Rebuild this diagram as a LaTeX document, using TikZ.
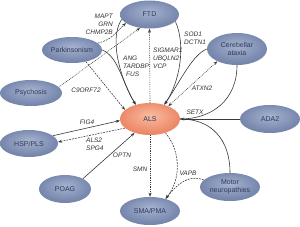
\documentclass[tikz,border=0pt]{standalone}
\usepackage{fontspec}
\setmainfont{Liberation Sans}
\usetikzlibrary{shapes.geometric,arrows.meta}
\definecolor{bA}{HTML}{A6B3D0}
\definecolor{bB}{HTML}{7B8BB0}
\definecolor{bC}{HTML}{53648B}
\definecolor{aA}{HTML}{F8BCA2}
\definecolor{aB}{HTML}{EE8E6D}
\definecolor{aC}{HTML}{D2603F}
\definecolor{nodetext}{HTML}{2F3A56}
\definecolor{labtext}{HTML}{333333}
\definecolor{linec}{HTML}{3A3A3A}
\pgfdeclareradialshading{blueshade}{\pgfpoint{0bp}{6bp}}{color(0bp)=(bA); color(22bp)=(bB); color(50bp)=(bC)}
\pgfdeclareradialshading{alsshade}{\pgfpoint{0bp}{6bp}}{color(0bp)=(aA); color(22bp)=(aB); color(50bp)=(aC)}
\newcommand\dnodefont{\fontsize{7}{8}\selectfont}
\newcommand\dgenefont{\fontsize{6.5}{8}\selectfont\itshape}
\tikzset{
  dis/.style={ellipse, inner sep=0pt, shade, shading=blueshade, text=nodetext, font=\dnodefont, align=center},
  alsnode/.style={ellipse, inner sep=0pt, shade, shading=alsshade, text=nodetext, font=\dnodefont, align=center},
  gene/.style={font=\dgenefont, text=labtext, inner sep=0pt},
  con/.style={draw=linec, line width=0.6pt},
  arr/.style={-{Stealth[length=4pt,width=3pt]}},
  dbl/.style={{Stealth[length=4pt,width=3pt]}-{Stealth[length=4pt,width=3pt]}},
  dsh/.style={dash pattern=on 1.8pt off 1.1pt},
  dtt/.style={dash pattern=on 0.8pt off 1pt},
}
\begin{document}
\begin{tikzpicture}[x=1pt,y=-1pt]
\useasboundingbox (0,0) rectangle (300,227);
\fill[white] (0,0) rectangle (300,227);
% nodes
\node[dis, minimum width=59pt, minimum height=28pt] (FTD) at (149.5,14.5) {FTD};
\node[dis, minimum width=60pt, minimum height=26pt] (Park) at (72,50) {Parkinsonism};
\node[dis, minimum width=62pt, minimum height=26pt] (Psy) at (31,93) {Psychosis};
\node[dis, minimum width=60pt, minimum height=32pt] (Cereb) at (237,49) {Cerebellar\\ataxia};
\node[alsnode, minimum width=60pt, minimum height=32pt] (ALS) at (150,119) {ALS};
\node[dis, minimum width=60pt, minimum height=28pt] (ADA) at (270,119) {ADA2};
\node[dis, minimum width=58pt, minimum height=27pt] (HSP) at (29,143.5) {HSP/PLS};
\node[dis, minimum width=52pt, minimum height=28pt] (POAG) at (65,189) {POAG};
\node[dis, minimum width=60pt, minimum height=28pt] (SMA) at (150,211) {SMA/PMA};
\node[dis, minimum width=60pt, minimum height=28pt] (Motor) at (230,187) {Motor\\neuropathies};
% connectors
\draw[con,dsh,arr] (Park.15) .. controls (112,40) and (116,32) .. (FTD.200);
\draw[con,dtt,arr] (Psy.12) -- (FTD.235);
\draw[con,dsh,arr] (Park.320) -- (ALS.160);
\draw[con,arr] (FTD.190) .. controls (108,40) and (122,82) .. (ALS.135);
\draw[con,arr] (Park.0) .. controls (118,56) and (122,82) .. (ALS.135);
\draw[con,dtt,arr] (ALS.90) -- (FTD.270);
\draw[con,dtt,arr] (ALS.270) -- (SMA.90);
\draw[con,arr] (FTD.345) .. controls (186,45) and (180,82) .. (ALS.45);
\draw[con,arr] (Cereb.180) .. controls (192,55) and (180,82) .. (ALS.45);
\draw[con,dtt,dbl] (ALS.35) -- (Cereb.212);
\draw[con,arr] (ADA.180) -- (ALS.0);
\draw[con] (Cereb.270) .. controls (237,100) and (212,119) .. (ALS.0);
\draw[con] (Motor.90) .. controls (230,140) and (212,119) .. (ALS.0);
\draw[con,arr] (HSP.18) -- (ALS.183);
\draw[con,dsh,arr] (ALS.200) -- (HSP.3);
\draw[con,arr] (POAG.30) -- (ALS.222);
\draw[con,dsh,arr] (ALS.318) .. controls (180,150) and (182,178) .. (SMA.38);
\draw[con,dsh,arr] (Motor.165) .. controls (192,176) and (182,178) .. (SMA.38);
% gene labels
\node[gene, align=right, anchor=east] (lMAPT) at (113,24) {MAPT\\GRN\\CHMP2B};
\node[gene, align=left, anchor=west] (lANG) at (123,66) {ANG\\TARDBP\\\hspace{3pt}FUS};
\node[gene, align=left, anchor=west] (lSIG) at (153,58) {SIGMAR1\\UBQLN2\\VCP};
\node[gene, align=left, anchor=west] (lSOD) at (184,38.5) {SOD1\\DCTN1};
\node[gene] (lATX) at (202,88) {ATXN2};
\node[gene] (lC9) at (86,90) {C9ORF72};
\node[gene] (lSETX) at (195,112) {SETX};
\node[gene] (lFIG) at (87,122) {FIG4};
\node[gene, align=left, anchor=west] (lALS2) at (86,144) {ALS2\\SPG4};
\node[gene] (lOPTN) at (122,155) {OPTN};
\node[gene] (lSMN) at (140,169) {SMN};
\node[gene] (lVAPB) at (188,173) {VAPB};
\end{tikzpicture}
\end{document}
